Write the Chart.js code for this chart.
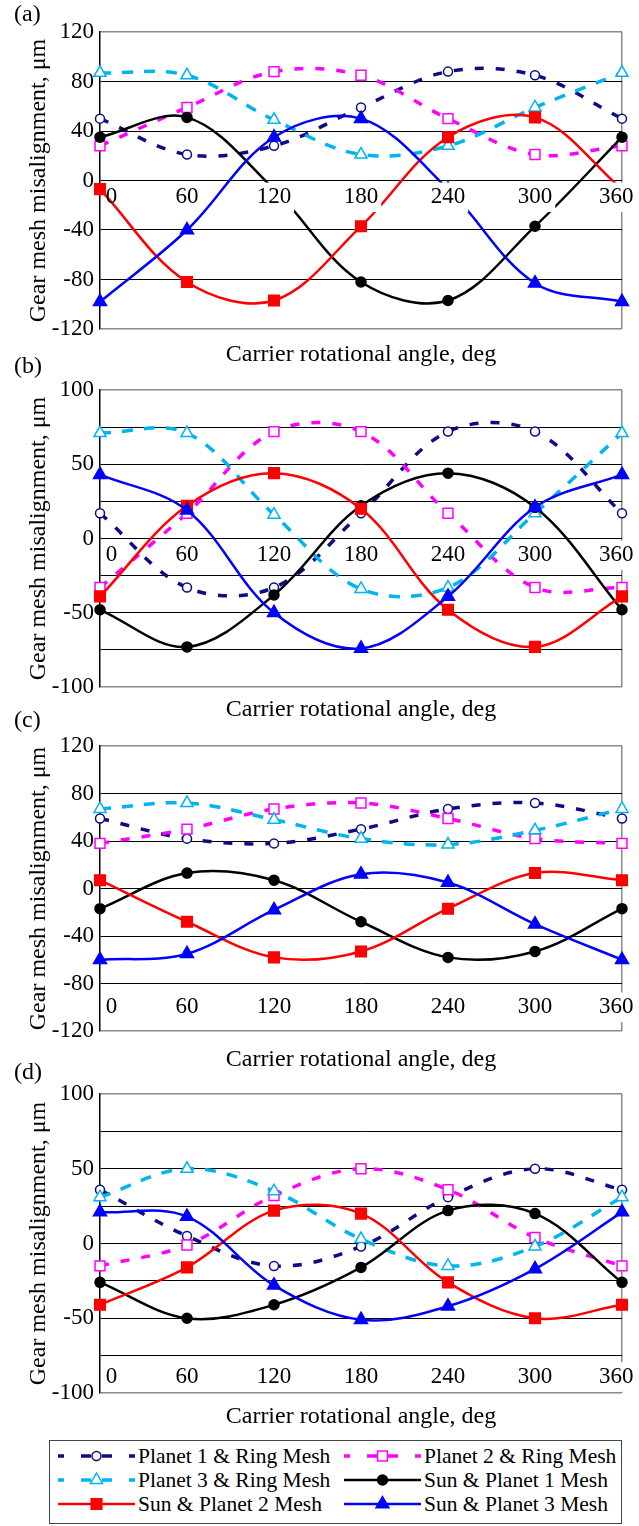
<!DOCTYPE html>
<html>
<head>
<meta charset="utf-8">
<script src="https://cdn.jsdelivr.net/npm/chart.js@4.4.1/dist/chart.umd.min.js"></script>
<style>
  body { margin: 0; background: #fff; }
  #page { position: relative; width: 639px; height: 1526px; overflow: hidden; font-family: "Liberation Serif", "Times New Roman", serif; }
  #page canvas { position: absolute; left: 0; }
  #legend { position: absolute; left: 49px; top: 1440px; width: 571px; height: 82px; border: 1px solid #444; }
  .item { position: absolute; height: 24px; display: flex; align-items: center; font-size: 21.5px; color: #000; white-space: nowrap; }
  .item svg { margin-right: 3px; }
</style>
</head>
<body>
<div id="page">
  <canvas id="chartA"></canvas>
  <canvas id="chartB"></canvas>
  <canvas id="chartC"></canvas>
  <canvas id="chartD"></canvas>
  <div id="legend"></div>
</div>
<script>
  // carrier angle, deg
  const angles = [0, 60, 120, 180, 240, 300, 360];
  const seriesNames = ['Planet 1 & Ring Mesh', 'Planet 2 & Ring Mesh', 'Planet 3 & Ring Mesh',
    'Sun & Planet 1 Mesh', 'Sun & Planet 2 Mesh', 'Sun & Planet 3 Mesh'];

  // (a)
  const aPlanet1Ring = [50, 21, 28, 59, 88, 85, 50];
  const aPlanet2Ring = [28, 59, 88, 85, 50, 21, 28];
  const aPlanet3Ring = [87, 85, 49, 21, 28, 59, 87];
  const aSunPlanet1 = [35, 51, -7, -82, -97, -37, 35];
  const aSunPlanet2 = [-7, -82, -97, -37, 35, 51, -7];
  const aSunPlanet3 = [-98, -40, 35, 50, -7, -83, -98];

  // (b)
  const bPlanet1Ring = [17, -33, -33, 17, 72, 72, 17];
  const bPlanet2Ring = [-33, 17, 72, 72, 17, -33, -33];
  const bPlanet3Ring = [71, 71, 16, -34, -33, 17, 71];
  const bSunPlanet1 = [-48, -73, -38, 22, 44, 21, -48];
  const bSunPlanet2 = [-39, 22, 44, 20, -48, -73, -39];
  const bSunPlanet3 = [43, 19, -50, -74, -39, 21, 43];

  // (c)
  const cPlanet1Ring = [59, 42, 38, 50, 67, 72, 59];
  const cPlanet2Ring = [38, 50, 67, 72, 59, 42, 38];
  const cPlanet3Ring = [67, 72, 58, 42, 37, 49, 67];
  const cSunPlanet1 = [-17, 13, 7, -28, -58, -53, -17];
  const cSunPlanet2 = [7, -28, -58, -53, -17, 13, 7];
  const cSunPlanet3 = [-60, -55, -18, 12, 5, -30, -60];

  // (d)
  const dPlanet1Ring = [36, 5, -15, -2, 31, 50, 36];
  const dPlanet2Ring = [-15, -1, 32, 50, 36, 4, -15];
  const dPlanet3Ring = [31, 50, 35, 3, -15, -2, 31];
  const dSunPlanet1 = [-26, -50, -41, -16, 22, 20, -26];
  const dSunPlanet2 = [-41, -16, 22, 20, -26, -50, -41];
  const dSunPlanet3 = [21, 18, -28, -51, -42, -17, 21];

  const xTicks = angles;
  const yTicks120 = [-120, -80, -40, 0, 40, 80, 120];
  const yTicks100 = [-100, -50, 0, 50, 100];

  const serif = "'Liberation Serif', 'Times New Roman', serif";

  const styles = [
    { color: '#0c0c84', dash: [9, 12], width: 3.5, point: 'circle', r: 4.5, hollow: true, order: 5 },
    { color: '#ff00ff', dash: [9, 12], width: 3.5, point: 'rect', r: 7, hollow: true, order: 4 },
    { color: '#00b4f0', dash: [11, 11], width: 3.5, point: 'triangle', r: 7, hollow: true, order: 3 },
    { color: '#000000', dash: [], width: 2.5, point: 'circle', r: 5, hollow: false, order: 2 },
    { color: '#ff0000', dash: [], width: 2.5, point: 'rect', r: 7.5, hollow: false, order: 1 },
    { color: '#0000ff', dash: [], width: 2.5, point: 'triangle', r: 7.5, hollow: false, order: 0 }
  ];

  const panels = [
    { id: 'chartA', label: '(a)', labelY: 15, plotTop: 32, plotBottom: 329, titleY: 355,
      series: [aPlanet1Ring, aPlanet2Ring, aPlanet3Ring, aSunPlanet1, aSunPlanet2, aSunPlanet3],
      ymin: -120, ymax: 120, step: 40, labels: yTicks120, crossAt: 0, xPad: 3 },
    { id: 'chartB', label: '(b)', labelY: 367, plotTop: 390, plotBottom: 687, titleY: 710,
      series: [bPlanet1Ring, bPlanet2Ring, bPlanet3Ring, bSunPlanet1, bSunPlanet2, bSunPlanet3],
      ymin: -100, ymax: 100, step: 25, labels: yTicks100, crossAt: 0, xPad: 3 },
    { id: 'chartC', label: '(c)', labelY: 721, plotTop: 746, plotBottom: 1031, titleY: 1060,
      series: [cPlanet1Ring, cPlanet2Ring, cPlanet3Ring, cSunPlanet1, cSunPlanet2, cSunPlanet3],
      ymin: -120, ymax: 120, step: 40, labels: yTicks120, crossAt: -80, xPad: 10 },
    { id: 'chartD', label: '(d)', labelY: 1073, plotTop: 1094, plotBottom: 1393, titleY: 1417,
      series: [dPlanet1Ring, dPlanet2Ring, dPlanet3Ring, dSunPlanet1, dSunPlanet2, dSunPlanet3],
      ymin: -100, ymax: 100, step: 25, labels: yTicks100, crossAt: -75, xPad: 7.5 }
  ];

  const titleSize = 24;
  const half = titleSize * 1.2 / 2;

  // end labels sit a little inside the plot, as in the source figure
  function xLabel(v) {
    if (v === 0) return '    0';
    if (v === 360) return '360  ';
    return String(v);
  }

  panels.forEach(p => {
    const canvas = document.getElementById(p.id);
    const top = Math.floor(p.labelY - half);
    const h = Math.ceil(p.titleY + half - top + 1);
    canvas.width = 639;
    canvas.height = h;
    canvas.style.top = top + 'px';
    canvas.style.width = '639px';
    canvas.style.height = h + 'px';

    const tPadTop = p.labelY - half - top;
    const tPadBottom = p.plotTop - top - tPadTop - 2 * half;
    const sPadTop = p.titleY - half - p.plotBottom;
    const sPadBottom = h - (p.titleY + half - top);

    const datasets = p.series.map((vals, i) => {
      const s = styles[i];
      return {
        label: seriesNames[i],
        data: angles.map((x, k) => ({ x: x, y: vals[k] })),
        borderColor: s.color,
        borderWidth: s.width,
        borderDash: s.dash,
        pointStyle: s.point,
        pointRadius: s.r,
        pointBorderWidth: 1.5,
        pointBorderColor: s.color,
        pointBackgroundColor: s.hollow ? '#ffffff' : s.color,
        tension: 0.35,
        fill: false,
        clip: false,
        order: s.order
      };
    });

    new Chart(canvas, {
      type: 'line',
      data: { datasets: datasets },
      options: {
        responsive: false,
        animation: false,
        events: [],
        layout: { padding: { left: 14, right: 17, top: 0, bottom: 0 } },
        plugins: {
          legend: { display: false },
          tooltip: { enabled: false },
          title: {
            display: true, text: p.label, align: 'start', fullSize: true, color: '#000',
            font: { family: serif, size: titleSize, weight: 'normal' },
            padding: { top: tPadTop, bottom: tPadBottom }
          },
          subtitle: {
            display: true, text: 'Carrier rotational angle, deg', position: 'bottom', fullSize: false,
            color: '#000', font: { family: serif, size: titleSize, weight: 'normal' },
            padding: { top: sPadTop, bottom: sPadBottom }
          }
        },
        scales: {
          x: {
            type: 'linear', min: 0, max: 360,
            position: { y: p.crossAt },
            afterBuildTicks: s => { s.ticks = xTicks.map(v => ({ value: v })); },
            // keep the padded end labels from shrinking the plot area
            afterFit: s => { s.paddingLeft = 0; s.paddingRight = 0; },
            ticks: {
              autoSkip: false, maxRotation: 0, color: '#000', padding: p.xPad, z: 1,
              showLabelBackdrop: c => c.index !== 0,
              backdropColor: '#ffffff',
              backdropPadding: { top: 1, bottom: 1, left: 3, right: 3 },
              font: { family: serif, size: 23 },
              callback: v => xLabel(v)
            },
            grid: {
              drawTicks: false, lineWidth: 1.5,
              color: c => (c.tick && c.tick.value === 360 ? '#8a8a8a' : 'rgba(0,0,0,0)')
            },
            border: { display: false }
          },
          y: {
            min: p.ymin, max: p.ymax,
            afterFit: s => { s.width = 86; },
            ticks: {
              stepSize: p.step, color: '#000', padding: 6,
              font: { family: serif, size: 23 },
              callback: v => (p.labels.includes(v) ? String(v) : '')
            },
            grid: {
              drawTicks: false,
              lineWidth: c => (c.tick && (c.tick.value === p.ymax || c.tick.value === p.ymin) ? 1.5 : 1),
              color: c => (c.tick && (c.tick.value === p.ymax || c.tick.value === p.ymin) ? '#8a8a8a' : '#000')
            },
            border: { display: true, color: '#000', width: 1.5 },
            title: {
              display: true, text: 'Gear mesh misalignment, \u03bcm', color: '#000',
              font: { family: serif, size: titleSize },
              padding: { top: 10.6, bottom: 0 }
            }
          }
        }
      }
    });
  });

  // legend box, two columns
  const legend = document.getElementById('legend');
  function sampleSvg(s) {
    const c = s.color;
    let lines;
    if (s.dash.length) {
      lines = [[0, 6], [23, 33], [44, 54], [71, 77]].map(seg =>
        `<line x1="${seg[0]}" y1="12" x2="${seg[1]}" y2="12" stroke="${c}" stroke-width="3.5"/>`).join('');
    } else {
      lines = `<line x1="0" y1="12" x2="77" y2="12" stroke="${c}" stroke-width="2.5"/>`;
    }
    const fill = s.hollow ? '#fff' : c;
    let mark;
    if (s.point === 'circle') {
      mark = `<circle cx="38.5" cy="12" r="${s.r}" fill="${fill}" stroke="${c}" stroke-width="1.5"/>`;
    } else if (s.point === 'rect') {
      const a = s.r * Math.SQRT1_2;
      mark = `<rect x="${38.5 - a}" y="${12 - a}" width="${2 * a}" height="${2 * a}" fill="${fill}" stroke="${c}" stroke-width="1.5"/>`;
    } else {
      const r = s.r;
      const pts = [[38.5, 12 - r], [38.5 + r * 0.866, 12 + r / 2], [38.5 - r * 0.866, 12 + r / 2]]
        .map(q => q.join(',')).join(' ');
      mark = `<polygon points="${pts}" fill="${fill}" stroke="${c}" stroke-width="1.5"/>`;
    }
    return `<svg width="77" height="24" viewBox="0 0 77 24">${lines}${mark}</svg>`;
  }
  seriesNames.forEach((name, i) => {
    const row = Math.floor(i / 2);
    const col = i % 2;
    const div = document.createElement('div');
    div.className = 'item';
    div.style.left = (col === 0 ? 8 : 294) + 'px';
    div.style.top = (3 + row * 24) + 'px';
    div.innerHTML = sampleSvg(styles[i]) + '<span>' + name.replace(/&/g, '&amp;') + '</span>';
    legend.appendChild(div);
  });
</script>
</body>
</html>
